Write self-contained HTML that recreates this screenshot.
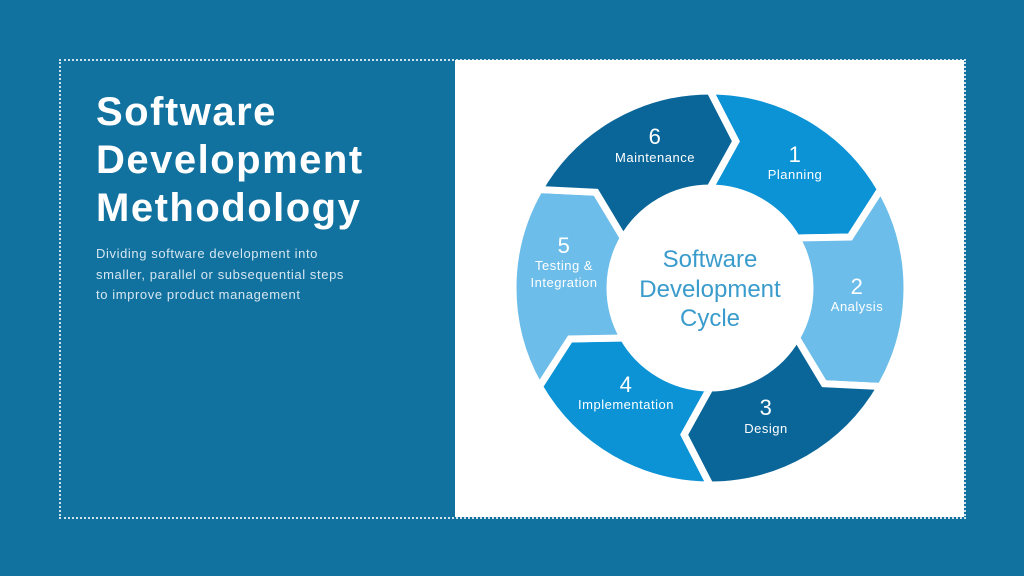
<!DOCTYPE html>
<html><head><meta charset="utf-8"><style>
html,body{margin:0;padding:0}
body{width:1024px;height:576px;background:#1172a0;position:relative;overflow:hidden;font-family:"Liberation Sans",sans-serif}
.frame{position:absolute;left:59px;top:59px;width:907px;height:460px;border:2px dotted #cfe2ee;box-sizing:border-box}
.panel{position:absolute;left:455px;top:60px;width:509px;height:457px;background:#fff}
h1{position:absolute;left:96px;top:88px;margin:0;color:#fff;font-size:40px;line-height:48px;font-weight:bold;letter-spacing:1.5px}
p{position:absolute;left:96px;top:244px;margin:0;color:#d6e6f0;font-size:13px;line-height:20.5px;letter-spacing:0.6px}
</style></head><body>
<div class="frame"></div>
<div class="panel"></div>
<h1>Software<br>Development<br>Methodology</h1>
<p>Dividing software development into<br>smaller, parallel or subsequential steps<br>to improve product management</p>
<svg width="1024" height="576" style="position:absolute;left:0;top:0">
<defs><path id="s" d="M0,-197 A197,197 0 0 1 170.6,-98.5 L140,-51 L86.6,-50 A100,100 0 0 0 0,-100 L25.9,-146.7 Z" stroke="#fff" stroke-width="7" stroke-linejoin="miter"/></defs>
<g transform="translate(710,288)">
<use href="#s" fill="#0b93d6"/>
<use href="#s" fill="#6cbde9" transform="rotate(60)"/>
<use href="#s" fill="#0a6699" transform="rotate(120)"/>
<use href="#s" fill="#0b93d6" transform="rotate(180)"/>
<use href="#s" fill="#6cbde9" transform="rotate(240)"/>
<use href="#s" fill="#0a6699" transform="rotate(300)"/>
</g>
<g fill="#fff" text-anchor="middle" font-family="Liberation Sans,sans-serif" letter-spacing="0.5">
<text x="655" y="144" font-size="22">6</text><text x="655" y="162" font-size="13">Maintenance</text>
<text x="795" y="162" font-size="22">1</text><text x="795" y="179" font-size="13">Planning</text>
<text x="857" y="294" font-size="22">2</text><text x="857" y="311" font-size="13">Analysis</text>
<text x="766" y="415" font-size="22">3</text><text x="766" y="433" font-size="13">Design</text>
<text x="626" y="392" font-size="22">4</text><text x="626" y="409" font-size="13">Implementation</text>
<text x="564" y="253" font-size="22">5</text><text x="564" y="270" font-size="13">Testing &amp;</text><text x="564" y="287" font-size="13">Integration</text>
</g>
<g fill="#3a9ccc" text-anchor="middle" font-size="24" font-family="Liberation Sans,sans-serif">
<text x="710" y="267">Software</text><text x="710" y="297">Development</text><text x="710" y="326">Cycle</text>
</g>
</svg>
</body></html>
